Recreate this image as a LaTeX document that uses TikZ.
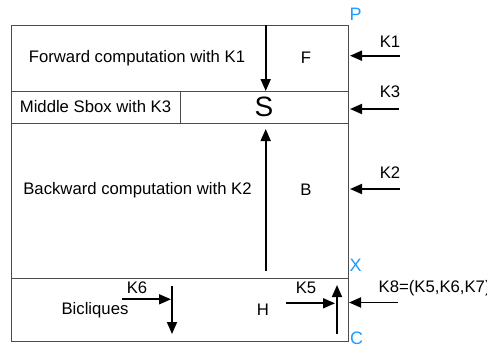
\documentclass[tikz,border=0pt]{standalone}
\usepackage{fontspec}
\setmainfont{Liberation Sans}
\usepackage{tikz}
\usetikzlibrary{arrows.meta}
\definecolor{pblue}{RGB}{30,155,255}

\tikzset{
  box/.style={draw=black!70, line width=0.9pt},
  arr/.style={line width=1.8pt, -{Triangle[length=12pt,width=10pt]}},
  txt/.style={font=\fontsize{16.7}{20}\selectfont, inner sep=0pt},
  corner/.style={font=\fontsize{18}{21}\selectfont, inner sep=0pt, text=pblue}
}

\begin{document}
\begin{tikzpicture}[x=1pt,y=-1pt]
 \useasboundingbox (0,0) rectangle (487,348);
 % the four rows
 \draw[box] (11,25) rectangle (348,91);
 \draw[box] (11,91) rectangle (348,123);
 \draw[box] (180,91) -- (180,123);
 \draw[box] (11,123) rectangle (348,278);
 \draw[box] (11,278) rectangle (348,341);

 \begin{scope}[every node/.style={txt}]
   \node (fwd) at (137,58) {Forward computation with K1};
   \node (F) at (306,58) {F};
   \node (mid) at (95.5,107) {Middle Sbox with K3};
   \node (S) at (264,107) {\fontsize{28}{32}\selectfont S};
   \node (bwd) at (137.5,190) {Backward computation with K2};
   \node (B) at (306,190) {B};
   \node (bic) at (95,310) {Bicliques};
   \node (H) at (263,310) {H};
   \node (K1) at (390,42) {K1};
   \node (K3) at (390,92) {K3};
   \node (K2) at (390,173) {K2};
   \node (K6) at (137,288) {K6};
   \node (K5) at (306,288) {K5};
   \node (K8) [anchor=west] at (378.5,288) {K8=(K5,K6,K7)};
 \end{scope}
 \node (P) [corner] at (355.7,14) {P};
 \node (X) [corner] at (355.7,265) {X};
 \node (C) [corner] at (356.7,338) {C};

 % key inputs
 \coordinate (k1s) at (400,55.7);  \coordinate (k1e) at (350,55.7);
 \coordinate (k3s) at (399,109);   \coordinate (k3e) at (350,109);
 \coordinate (k2s) at (400,189);   \coordinate (k2e) at (350,189);
 \coordinate (k8s) at (398,302.5); \coordinate (k8e) at (349,302.5);
 \coordinate (k6s) at (121.7,299.3); \coordinate (k6e) at (171,299.3);
 \coordinate (k5s) at (286,303.3); \coordinate (k5e) at (335,303.3);
 \draw[arr] (k1s) -- (k1e);
 \draw[arr] (k3s) -- (k3e);
 \draw[arr] (k2s) -- (k2e);
 \draw[arr] (k8s) -- (k8e);
 \draw[arr] (k6s) -- (k6e);
 \draw[arr] (k5s) -- (k5e);

 % data flow
 \coordinate (f1) at (265.7,25);  \coordinate (f2) at (265.7,91);
 \coordinate (b1) at (265.7,271); \coordinate (b2) at (265.7,129);
 \coordinate (d1) at (172,286);   \coordinate (d2) at (172,334);
 \coordinate (u1) at (337,334);   \coordinate (u2) at (337,285);
 \draw[arr] (f1) -- (f2);
 \draw[arr] (b1) -- (b2);
 \draw[arr] (d1) -- (d2);
 \draw[arr] (u1) -- (u2);
\end{tikzpicture}
\end{document}
